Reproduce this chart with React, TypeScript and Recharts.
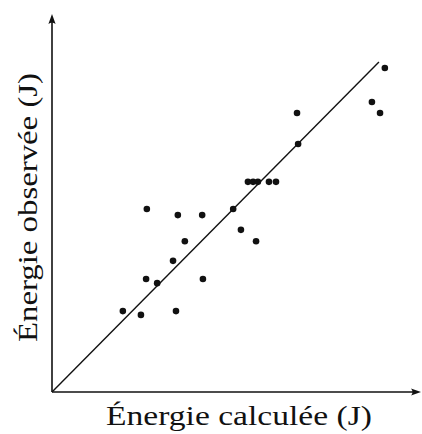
import { ScatterChart, Scatter, XAxis, YAxis, ReferenceLine } from "recharts";

const calcEnergy = [
  90.2, 86.7, 88.9, 66.4, 66.7, 53.1, 54.5, 55.8, 58.8, 60.7, 25.7, 34.1,
  40.7, 49.1, 51.2, 55.3, 36.0, 32.8, 25.5, 28.5, 40.9, 19.2, 24.1, 33.6,
];
const obsEnergy = [
  85.7, 76.7, 73.8, 73.8, 65.6, 55.6, 55.6, 55.6, 55.6, 55.6, 48.4, 46.8,
  46.8, 48.4, 42.9, 39.9, 39.9, 34.7, 29.9, 28.8, 29.9, 21.4, 20.4, 21.4,
];
const fitStart = { x: 0, y: 0 };
const fitEnd = { x: 88.6, y: 87.3 };
const xLabel = "Énergie calculée (J)";
const yLabel = "Énergie observée (J)";

const points = calcEnergy.map((x, i) => ({ x, y: obsEnergy[i] }));

const FONT = "'Liberation Serif', 'Times New Roman', serif";

function Arrow(props: any) {
  const { x1, y1, x2, y2 } = props;
  const ang = Math.atan2(y2 - y1, x2 - x1);
  const len = 10;
  const w = 3.6;
  const c = Math.cos(ang);
  const s = Math.sin(ang);
  const bx = x2 - len * c;
  const by = y2 - len * s;
  const px = -s * w;
  const py = c * w;
  return (
    <g>
      <line x1={x1} y1={y1} x2={bx + 3 * c} y2={by + 3 * s} stroke="#111" strokeWidth={1.6} />
      <path
        d={`M${x2},${y2} L${bx + px},${by + py} Q${bx + 3 * c},${by + 3 * s} ${bx - px},${by - py} Z`}
        fill="#111"
      />
    </g>
  );
}

function Dot(props: any) {
  const { cx, cy } = props;
  return <circle cx={cx} cy={cy} r={3.3} fill="#111" />;
}

export default function App() {
  return (
    <div style={{ position: "absolute", left: 0, top: 0, width: 422, height: 434, background: "#fff" }}>
      <ScatterChart
        width={422}
        height={434}
        margin={{ top: 14, right: 1, left: 52, bottom: 42 }}
      >
        <XAxis
          type="number"
          dataKey="x"
          domain={[0, 100]}
          height={0}
          axisLine={false}
          tick={false}
          tickLine={false}
        />
        <YAxis
          type="number"
          dataKey="y"
          domain={[0, 100]}
          width={0}
          axisLine={false}
          tick={false}
          tickLine={false}
        />
        <ReferenceLine
          segment={[{ x: 0, y: 0 }, { x: 100, y: 0 }]}
          shape={<Arrow />}
          ifOverflow="visible"
        />
        <ReferenceLine
          segment={[{ x: 0, y: 0 }, { x: 0, y: 100 }]}
          shape={<Arrow />}
          ifOverflow="visible"
        />
        <ReferenceLine
          segment={[fitStart, fitEnd]}
          stroke="#111"
          strokeWidth={1.4}
          ifOverflow="visible"
        />
        <Scatter data={points} shape={<Dot />} isAnimationActive={false} />
      </ScatterChart>
      <svg
        width={422}
        height={434}
        style={{ position: "absolute", left: 0, top: 0, pointerEvents: "none" }}
      >
        <text
          x={106}
          y={425}
          fontFamily={FONT}
          fontSize={28}
          fill="#111"
          textLength={266}
          lengthAdjust="spacingAndGlyphs"
        >
          {xLabel}
        </text>
        <text
          x={0}
          y={0}
          transform="translate(37,342) rotate(-90)"
          fontFamily={FONT}
          fontSize={28}
          fill="#111"
          textLength={269}
          lengthAdjust="spacingAndGlyphs"
        >
          {yLabel}
        </text>
      </svg>
    </div>
  );
}
